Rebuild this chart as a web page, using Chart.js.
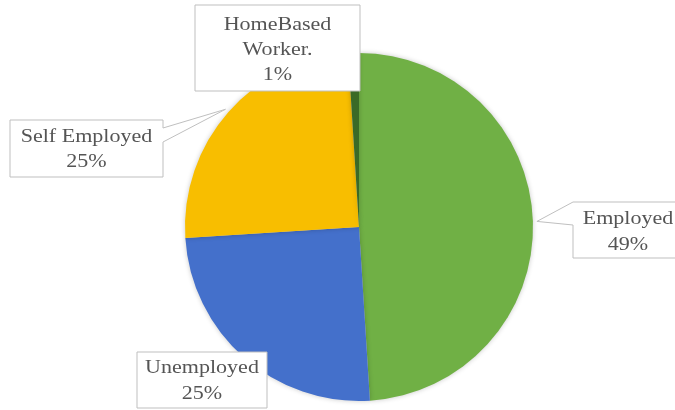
<!DOCTYPE html>
<html>
<head>
<meta charset="utf-8">
<script src="https://cdn.jsdelivr.net/npm/chart.js@4/dist/chart.umd.min.js"></script>
<style>
  html, body { margin: 0; padding: 0; background: #ffffff; }
  #wrap { width: 675px; height: 410px; position: relative; }
</style>
</head>
<body>
<div id="wrap"><canvas id="pie" width="675" height="410"></canvas></div>
<script>
// Employment status shares (percent)
const categories = ['Employed', 'Unemployed', 'Self Employed', ['HomeBased', 'Worker.']];
const shares = [49, 25, 25, 1];
const sliceColors = ['#70B045', '#4470CB', '#F8BE00', '#3A6A27'];

// Callout boxes: rectangle plus the edge segment where the pointer wedge attaches
const callouts = [
  { box: [573, 202, 110, 56], wedge: { side: 'left', from: 202, to: 225 }, lines: [224, 250] },
  { box: [137, 352, 130, 56], wedge: null, lines: [373, 399] },
  { box: [10, 120, 153, 57], wedge: { side: 'right', from: 128, to: 142 }, lines: [142, 167] },
  { box: [195, 5, 165, 86], wedge: null, lines: [30, 55, 80] }
];

const sliceShadow = {
  id: 'sliceShadow',
  beforeDatasetDraw(chart) {
    const ctx = chart.ctx;
    ctx.save();
    ctx.shadowColor = 'rgba(0,0,0,0.22)';
    ctx.shadowBlur = 5;
  },
  afterDatasetDraw(chart) {
    chart.ctx.restore();
  }
};

const calloutLabels = {
  id: 'calloutLabels',
  afterDatasetsDraw(chart) {
    const ctx = chart.ctx;
    const arcs = chart.getDatasetMeta(0).data;
    const values = chart.data.datasets[0].data;
    arcs.forEach((arc, i) => {
      const c = callouts[i];
      const [bx, by, bw, bh] = c.box;
      const mid = (arc.startAngle + arc.endAngle) / 2;
      const tipX = arc.x + Math.cos(mid) * (arc.outerRadius + 4);
      const tipY = arc.y + Math.sin(mid) * (arc.outerRadius + 4);

      ctx.save();
      ctx.beginPath();
      if (c.wedge && c.wedge.side === 'left') {
        ctx.moveTo(bx, by);
        ctx.lineTo(bx + bw, by);
        ctx.lineTo(bx + bw, by + bh);
        ctx.lineTo(bx, by + bh);
        ctx.lineTo(bx, c.wedge.to);
        ctx.lineTo(tipX, tipY);
        ctx.lineTo(bx, c.wedge.from);
      } else if (c.wedge && c.wedge.side === 'right') {
        ctx.moveTo(bx, by);
        ctx.lineTo(bx + bw, by);
        ctx.lineTo(bx + bw, c.wedge.from);
        ctx.lineTo(tipX, tipY);
        ctx.lineTo(bx + bw, c.wedge.to);
        ctx.lineTo(bx + bw, by + bh);
        ctx.lineTo(bx, by + bh);
      } else {
        ctx.rect(bx, by, bw, bh);
      }
      ctx.closePath();
      ctx.fillStyle = '#ffffff';
      ctx.fill();
      ctx.strokeStyle = '#BFBFBF';
      ctx.lineWidth = 1;
      ctx.stroke();

      const name = chart.data.labels[i];
      const textLines = (Array.isArray(name) ? name.slice() : [name]);
      textLines.push(values[i] + '%');
      ctx.fillStyle = '#555555';
      ctx.font = '19.5px "Liberation Serif", "Times New Roman", serif';
      ctx.textAlign = 'center';
      ctx.textBaseline = 'alphabetic';
      const cx = bx + bw / 2;
      textLines.forEach((t, k) => {
        ctx.save();
        ctx.translate(cx, c.lines[k]);
        ctx.scale(1.13, 1);
        ctx.fillText(t, 0, 0);
        ctx.restore();
      });
      ctx.restore();
    });
  }
};

new Chart(document.getElementById('pie'), {
  type: 'pie',
  data: {
    labels: categories,
    datasets: [{
      data: shares,
      backgroundColor: sliceColors,
      borderWidth: 0
    }]
  },
  options: {
    responsive: false,
    animation: false,
    layout: { padding: { left: 185, right: 142, top: 53, bottom: 9 } },
    plugins: {
      legend: { display: false },
      tooltip: { enabled: false }
    }
  },
  plugins: [sliceShadow, calloutLabels]
});
</script>
</body>
</html>
